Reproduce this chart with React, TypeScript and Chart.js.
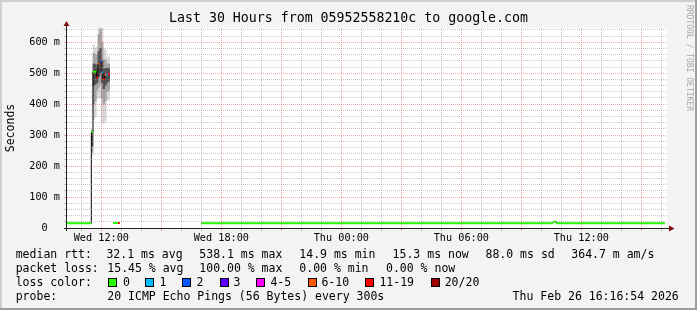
import React, { useEffect, useRef } from 'react';
import { Chart, registerables } from 'chart.js';
Chart.register(...registerables);

// ---- data (time in minutes since Wed 00:00, values in ms) ----
const X_MIN = 617; // Wed 10:17
const X_MAX = 2417; // Thu 16:17
const xGridMinutes = [660, 720, 780, 840, 900, 960, 1020, 1080, 1140, 1200, 1260, 1320, 1380, 1440, 1500, 1560, 1620, 1680, 1740, 1800, 1860, 1920, 1980, 2040, 2100, 2160, 2220, 2280, 2340, 2400];
const xMajorMinutes = [720, 900, 1080, 1260, 1440, 1620, 1800, 1980, 2160, 2340];
const xLabelMinutes = [720, 1080, 1440, 1800, 2160];
const xLabelTexts = ['Wed 12:00', 'Wed 18:00', 'Thu 00:00', 'Thu 06:00', 'Thu 12:00'];

const Y_MAX = 646;
const yGridMs = [0, 20, 40, 60, 80, 100, 120, 140, 160, 180, 200, 220, 240, 260, 280, 300, 320, 340, 360, 380, 400, 420, 440, 460, 480, 500, 520, 540, 560, 580, 600, 620, 640];
const yMajorMs = [0, 100, 200, 300, 400, 500, 600];

// median rtt change points: value holds from start until next start
const medianStart = [610, 690, 695, 705, 710, 715, 720, 725, 730, 735, 740, 745, 755, 770, 775, 1020, 2075, 2085, 2411];
const medianMs: (number | null)[] = [15.2, 310, 505, 486, 531, 537, 502, 481, 494, 496, 498, null, 15.8, 15.9, null, 15.3, 20.1, 15.3, null];
const medianLoss: (number | null)[] = [0, 0, 0, 6, 5, 2, 1, 6, 5, 1, 6, null, 0, 6, null, 0, 0, 0, null];

// smoke (ping spread) per 5-minute step
const smokeStart = [690, 695, 700, 705, 710, 715, 720, 725, 730, 735, 740];
const smokeOuterLo = [236, 350, 359, 420, 420, 420, 339, 339, 345, 414, 414];
const smokeOuterHi = [318, 591, 581, 585, 660, 660, 660, 581, 575, 552, 552];
const smokeMidLo = [245, 400, 410, 445, 455, 465, 420, 400, 410, 440, 445];
const smokeMidHi = [314, 565, 560, 560, 625, 640, 600, 545, 540, 530, 530];
const smokeInnerLo = [265, 460, 465, 470, 490, 500, 470, 450, 460, 470, 475];
const smokeInnerHi = [311, 530, 528, 520, 570, 580, 540, 512, 515, 515, 515];

const lossLabels = ['0', '1', '2', '3', '4-5', '6-10', '11-19', '20/20'];
const lossColors = ['#26ff00', '#00b8ff', '#0059ff', '#5e00ff', '#ff00ff', '#ff5500', '#ff0000', '#a10000'];

const TITLE = 'Last 30 Hours from 05952558210c to google.com';
const Y_TITLE = 'Seconds';
const WATERMARK = 'RRDTOOL / TOBI OETIKER';
const rttTexts = ['median rtt:', '32.1 ms avg', '538.1 ms max', '14.9 ms min', '15.3 ms now', '88.0 ms sd', '364.7 m am/s'];
const lossTexts = ['packet loss:', '15.45 % avg', '100.00 % max', '0.00 % min', '0.00 % now'];
const lossColorTitle = 'loss color:';
const probeTexts = ['probe:', '20 ICMP Echo Pings (56 Bytes) every 300s', 'Thu Feb 26 16:16:54 2026'];

// ---- styling ----
const MONO = "'DejaVu Sans Mono', 'Liberation Mono', monospace";
const GRID = 'rgba(143,143,143,0.5)';
const MGRID = 'rgba(224,80,80,0.5)';

// continuous stepped median (with vertical joins)
function buildMedianLine() {
  const pts: { x: number; y: number | null }[] = [];
  for (let i = 0; i < medianStart.length - 1; i++) {
    const v = medianMs[i];
    if (v === null) continue;
    pts.push({ x: medianStart[i], y: v });
    const n = i + 1;
    if (medianMs[n] === null) {
      pts.push({ x: medianStart[n], y: v });
      pts.push({ x: medianStart[n], y: null });
    }
  }
  return pts;
}

// horizontal-only pieces for one loss colour
function buildLossPieces(li: number) {
  const pts: { x: number; y: number | null }[] = [];
  for (let i = 0; i < medianStart.length - 1; i++) {
    const v = medianMs[i];
    if (v === null || medianLoss[i] !== li) continue;
    pts.push({ x: medianStart[i], y: v });
    pts.push({ x: medianStart[i + 1], y: v });
    pts.push({ x: medianStart[i + 1], y: null });
  }
  return pts;
}

function smokeData(lo: number[], hi: number[]) {
  return smokeStart.map((t, i) => ({ x: t + 2.5, y: [lo[i], hi[i]] }));
}

export default function App() {
  const ref = useRef<HTMLCanvasElement>(null);

  useEffect(() => {
    const canvas = ref.current;
    if (!canvas) return;

    const bgPlugin = {
      id: 'rrdBg',
      beforeDraw(chart: any) {
        const { ctx, width, height, chartArea: a } = chart;
        ctx.save();
        ctx.fillStyle = '#f3f3f3';
        ctx.fillRect(0, 0, width, height);
        ctx.fillStyle = '#cfcfcf';
        ctx.fillRect(0, 0, width, 2);
        ctx.fillRect(0, 0, 2, height);
        ctx.fillStyle = '#9e9e9e';
        ctx.fillRect(0, height - 2, width, 2);
        ctx.fillRect(width - 2, 0, 2, height);
        ctx.fillStyle = '#ffffff';
        ctx.fillRect(a.left, a.top, a.right - a.left, a.bottom - a.top);
        ctx.restore();
      },
    };

    const axisPlugin = {
      id: 'rrdAxis',
      afterDraw(chart: any) {
        const { ctx, chartArea: a } = chart;
        ctx.save();
        ctx.strokeStyle = '#202020';
        ctx.lineWidth = 1;
        ctx.beginPath();
        ctx.moveTo(a.left - 0.5, a.bottom + 3);
        ctx.lineTo(a.left - 0.5, a.top - 2);
        ctx.moveTo(a.left - 3, a.bottom + 0.5);
        ctx.lineTo(a.right + 3, a.bottom + 0.5);
        ctx.stroke();
        ctx.fillStyle = '#801010';
        ctx.beginPath();
        ctx.moveTo(a.left - 0.5, a.top - 7);
        ctx.lineTo(a.left - 3.5, a.top - 2);
        ctx.lineTo(a.left + 2.5, a.top - 2);
        ctx.closePath();
        ctx.fill();
        ctx.beginPath();
        ctx.moveTo(a.right + 7.5, a.bottom + 0.5);
        ctx.lineTo(a.right + 2, a.bottom - 2.5);
        ctx.lineTo(a.right + 2, a.bottom + 3.5);
        ctx.closePath();
        ctx.fill();
        ctx.restore();
      },
    };

    const barCommon = {
      type: 'bar' as const,
      grouped: false,
      barPercentage: 1,
      categoryPercentage: 1,
      borderWidth: 0,
    };

    const datasets: any[] = [
      { ...barCommon, label: 'smoke outer', data: smokeData(smokeOuterLo, smokeOuterHi), backgroundColor: '#d8d8d8', order: 10 },
      { ...barCommon, label: 'smoke mid', data: smokeData(smokeMidLo, smokeMidHi), backgroundColor: '#a4a4a4', order: 9 },
      { ...barCommon, label: 'smoke inner', data: smokeData(smokeInnerLo, smokeInnerHi), backgroundColor: '#505050', order: 8 },
      {
        type: 'line',
        label: 'median',
        data: buildMedianLine(),
        borderColor: '#000000',
        borderWidth: 1,
        stepped: 'before',
        pointRadius: 0,
        fill: false,
        spanGaps: false,
        order: 5,
      },
    ];
    lossColors.forEach((c, li) => {
      const data = buildLossPieces(li);
      if (!data.length) return;
      datasets.push({
        type: 'line',
        label: 'loss ' + lossLabels[li],
        data,
        borderColor: c,
        borderWidth: 2,
        borderCapStyle: 'butt',
        pointRadius: 0,
        fill: false,
        spanGaps: false,
        order: 1,
      });
    });

    const chart = new Chart(canvas, {
      type: 'line',
      data: { datasets },
      options: {
        animation: false,
        responsive: false,
        events: [],
        layout: { padding: 0 },
        plugins: {
          legend: { display: false },
          tooltip: { enabled: false },
          title: {
            display: true,
            text: TITLE,
            color: '#000',
            font: { family: MONO, size: 13.25, weight: 'normal' },
            padding: { top: 11, bottom: 1.1 },
          },
        },
        scales: {
          x: {
            type: 'linear',
            min: X_MIN,
            max: X_MAX,
            offset: false,
            afterBuildTicks: (s: any) => {
              s.ticks = xGridMinutes.map((v) => ({ value: v }));
            },
            afterFit: (s: any) => {
              s.height = 82;
              s.paddingRight = 30;
              s.paddingLeft = 0;
            },
            grid: {
              z: 1,
              offset: false,
              lineWidth: 1,
              drawTicks: true,
              tickLength: 3,
              color: (ctx: any) => (ctx.tick && xMajorMinutes.includes(ctx.tick.value) ? MGRID : GRID),
              tickColor: (ctx: any) => (ctx.tick && xMajorMinutes.includes(ctx.tick.value) ? MGRID : GRID),
            },
            border: { display: false, dash: [1, 1] },
            ticks: {
              autoSkip: false,
              maxRotation: 0,
              minRotation: 0,
              padding: 1,
              color: '#000',
              font: { family: MONO, size: 10.2 },
              callback: (v: any) => {
                const i = xLabelMinutes.indexOf(Number(v));
                return i >= 0 ? xLabelTexts[i] : '';
              },
            },
          },
          y: {
            type: 'linear',
            min: 0,
            max: Y_MAX,
            afterBuildTicks: (s: any) => {
              s.ticks = yGridMs.map((v) => ({ value: v }));
            },
            afterFit: (s: any) => {
              s.width = 67;
            },
            grid: {
              z: 1,
              lineWidth: 1,
              drawTicks: true,
              tickLength: 3,
              color: (ctx: any) => (ctx.tick && yMajorMs.includes(ctx.tick.value) ? MGRID : GRID),
              tickColor: (ctx: any) => (ctx.tick && yMajorMs.includes(ctx.tick.value) ? MGRID : GRID),
            },
            border: { display: false, dash: [1, 1] },
            ticks: {
              autoSkip: false,
              padding: 4,
              crossAlign: 'center',
              color: '#000',
              font: { family: MONO, size: 10.2 },
              callback: (v: any) => {
                const n = Number(v);
                if (!yMajorMs.includes(n)) return '';
                return n === 0 ? '0' : `${n} m`;
              },
            },
            title: {
              display: true,
              text: Y_TITLE,
              color: '#000',
              font: { family: MONO, size: 11.5 },
              padding: { top: 4, bottom: 0 },
            },
          },
        },
      } as any,
      plugins: [bgPlugin, axisPlugin],
    });
    return () => chart.destroy();
  }, []);

  const rttX = [15.7, 106.4, 199.3, 299.3, 392.6, 485.5, 571.3];
  const lossX = [15.7, 107.3, 199.3, 299.3, 386];
  const swatchX = [108, 145.3, 182.2, 219.6, 256.4, 307.6, 365.3, 431];
  const swatchLabelX = [123, 159.4, 196.4, 233.4, 270.4, 321.4, 379.4, 444.7];
  const probeX = [15.7, 107.3, 512.6];
  const rowTop = [247.3, 261.3, 274.7, 289];

  const textStyle = (x: number, top: number): React.CSSProperties => ({
    position: 'absolute',
    left: x,
    top,
    fontFamily: MONO,
    fontSize: '11.5px',
    lineHeight: '14px',
    color: '#000',
    whiteSpace: 'pre',
  });

  return (
    <div style={{ position: 'absolute', left: 0, top: 0, width: 697, height: 310, overflow: 'hidden' }}>
      <canvas ref={ref} width={697} height={310} style={{ display: 'block', width: 697, height: 310 }} />
      {rttTexts.map((t, i) => (
        <div key={'r' + i} style={textStyle(rttX[i], rowTop[0])}>{t}</div>
      ))}
      {lossTexts.map((t, i) => (
        <div key={'l' + i} style={textStyle(lossX[i], rowTop[1])}>{t}</div>
      ))}
      <div style={textStyle(15.7, rowTop[2])}>{lossColorTitle}</div>
      {lossLabels.map((t, i) => (
        <React.Fragment key={'c' + i}>
          <div
            style={{
              position: 'absolute',
              left: swatchX[i],
              top: 278,
              width: 9,
              height: 9,
              boxSizing: 'border-box',
              border: '1px solid #000',
              background: lossColors[i],
            }}
          />
          <div style={textStyle(swatchLabelX[i], rowTop[2])}>{t}</div>
        </React.Fragment>
      ))}
      {probeTexts.map((t, i) => (
        <div key={'p' + i} style={textStyle(probeX[i], rowTop[3])}>{t}</div>
      ))}
      <div
        style={{
          position: 'absolute',
          left: 683,
          top: 5,
          writingMode: 'vertical-rl',
          fontFamily: MONO,
          fontSize: '8px',
          lineHeight: '12px',
          color: '#a8a8a8',
          whiteSpace: 'pre',
        }}
      >
        {WATERMARK}
      </div>
    </div>
  );
}
